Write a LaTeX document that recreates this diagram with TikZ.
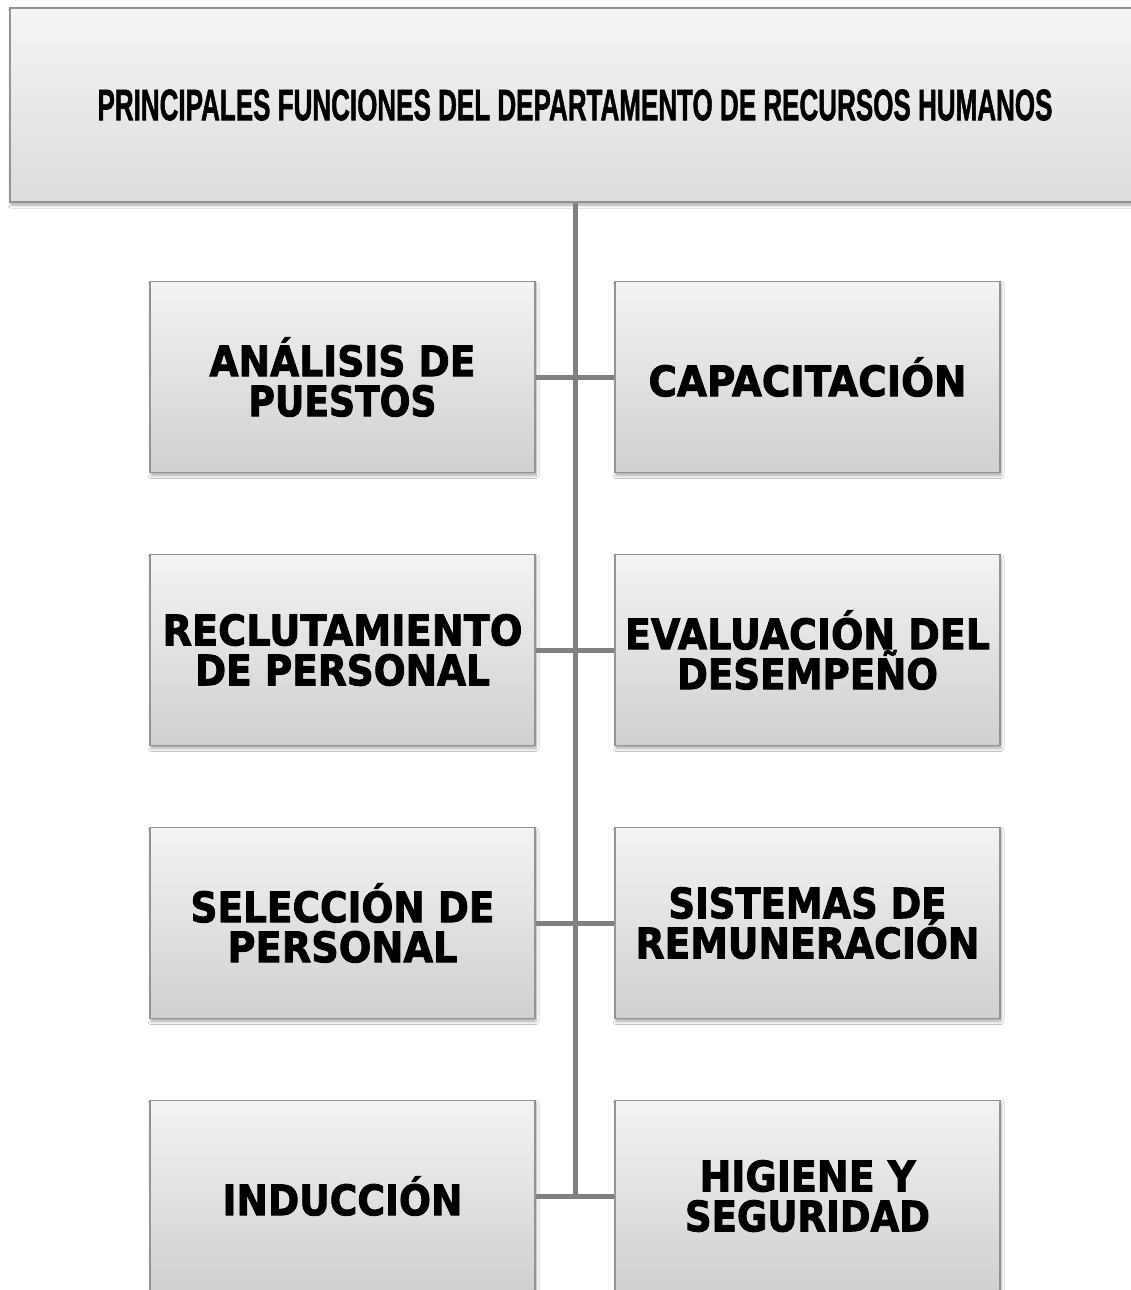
\documentclass[tikz,border=0pt]{standalone}
\usepackage{fontspec}
\usepackage{graphicx}
\usetikzlibrary{shadows.blur}

\newfontfamily\titlefont{Liberation Sans}[BoldFeatures={FakeBold=1.6}]
\newfontfamily\labelfont{DejaVu Sans}[BoldFeatures={FakeBold=2.2}]

% set a line of text at the current size, stretched or squeezed to a given width
\newlength\fitnat
\newcommand\fitto[2]{%
  \settowidth\fitnat{#2}%
  \pgfmathsetmacro\fitfac{#1/\fitnat}%
  \scalebox{\fitfac}[1]{#2}}

\definecolor{boxtop}{HTML}{F3F3F3}
\definecolor{boxbot}{HTML}{D0D0D0}
\definecolor{headtop}{HTML}{F5F5F5}
\definecolor{headbot}{HTML}{DCDCDC}
\definecolor{boxline}{HTML}{939393}
\definecolor{linkgray}{HTML}{808080}

\tikzset{
  card/.style={draw=boxline, line width=1.2pt,
    top color=boxtop, bottom color=boxbot,
    minimum width=385pt, minimum height=191pt, inner sep=0pt,
    align=center,
    font=\labelfont\bfseries\fontsize{42}{40}\selectfont,
    blur shadow={shadow xshift=1pt, shadow yshift=-3pt,
      shadow blur radius=3pt, shadow blur steps=6, shadow opacity=35}},
  headcard/.style={card, top color=headtop, bottom color=headbot,
    minimum width=1130pt, minimum height=194pt,
    font=\titlefont\bfseries\fontsize{44}{46}\selectfont},
  link/.style={draw=linkgray, line width=5pt}
}

\begin{document}
\begin{tikzpicture}[x=1pt, y=-1pt]
  \useasboundingbox (0,0) rectangle (1131,1290);
  \clip (0,0) rectangle (1131,1290);
  \fill[white] (0,0) rectangle (1131,1290);

  % heading
  \node[headcard] (title) at (575,105)
    {\fitto{955}{PRINCIPALES FUNCIONES DEL DEPARTAMENTO DE RECURSOS HUMANOS}};

  % left column
  \node[card] (l1) at (342.5,377)  {\fitto{266}{ANÁLISIS DE}\\\fitto{188}{PUESTOS}};
  \node[card] (l2) at (342.5,650)  {\fitto{360}{RECLUTAMIENTO}\\\fitto{295}{DE PERSONAL}};
  \node[card] (l3) at (342.5,923)  {\fitto{304}{SELECCIÓN DE}\\\fitto{230}{PERSONAL}};
  \node[card] (l4) at (342.5,1196) {\fitto{240}{INDUCCIÓN}};

  % right column
  \node[card] (r1) at (807.5,377)  {\fitto{318}{CAPACITACIÓN}};
  \node[card] (r2) at (807.5,650)  {\fitto{365}{EVALUACIÓN DEL}\\\fitto{261}{DESEMPEÑO}};
  \node[card] (r3) at (807.5,923)  {\fitto{278}{SISTEMAS DE}\\\fitto{344}{REMUNERACIÓN}};
  \node[card] (r4) at (807.5,1196) {\fitto{216}{HIGIENE Y}\\\fitto{245}{SEGURIDAD}};

  % spine and branches
  \coordinate (spineend) at (575,1196);
  \draw[link] (title.south) -- (spineend);
  \draw[link] (l1.east) -- (r1.west);
  \draw[link] (l2.east) -- (r2.west);
  \draw[link] (l3.east) -- (r3.west);
  \draw[link] (l4.east) -- (r4.west);
\end{tikzpicture}
\end{document}
